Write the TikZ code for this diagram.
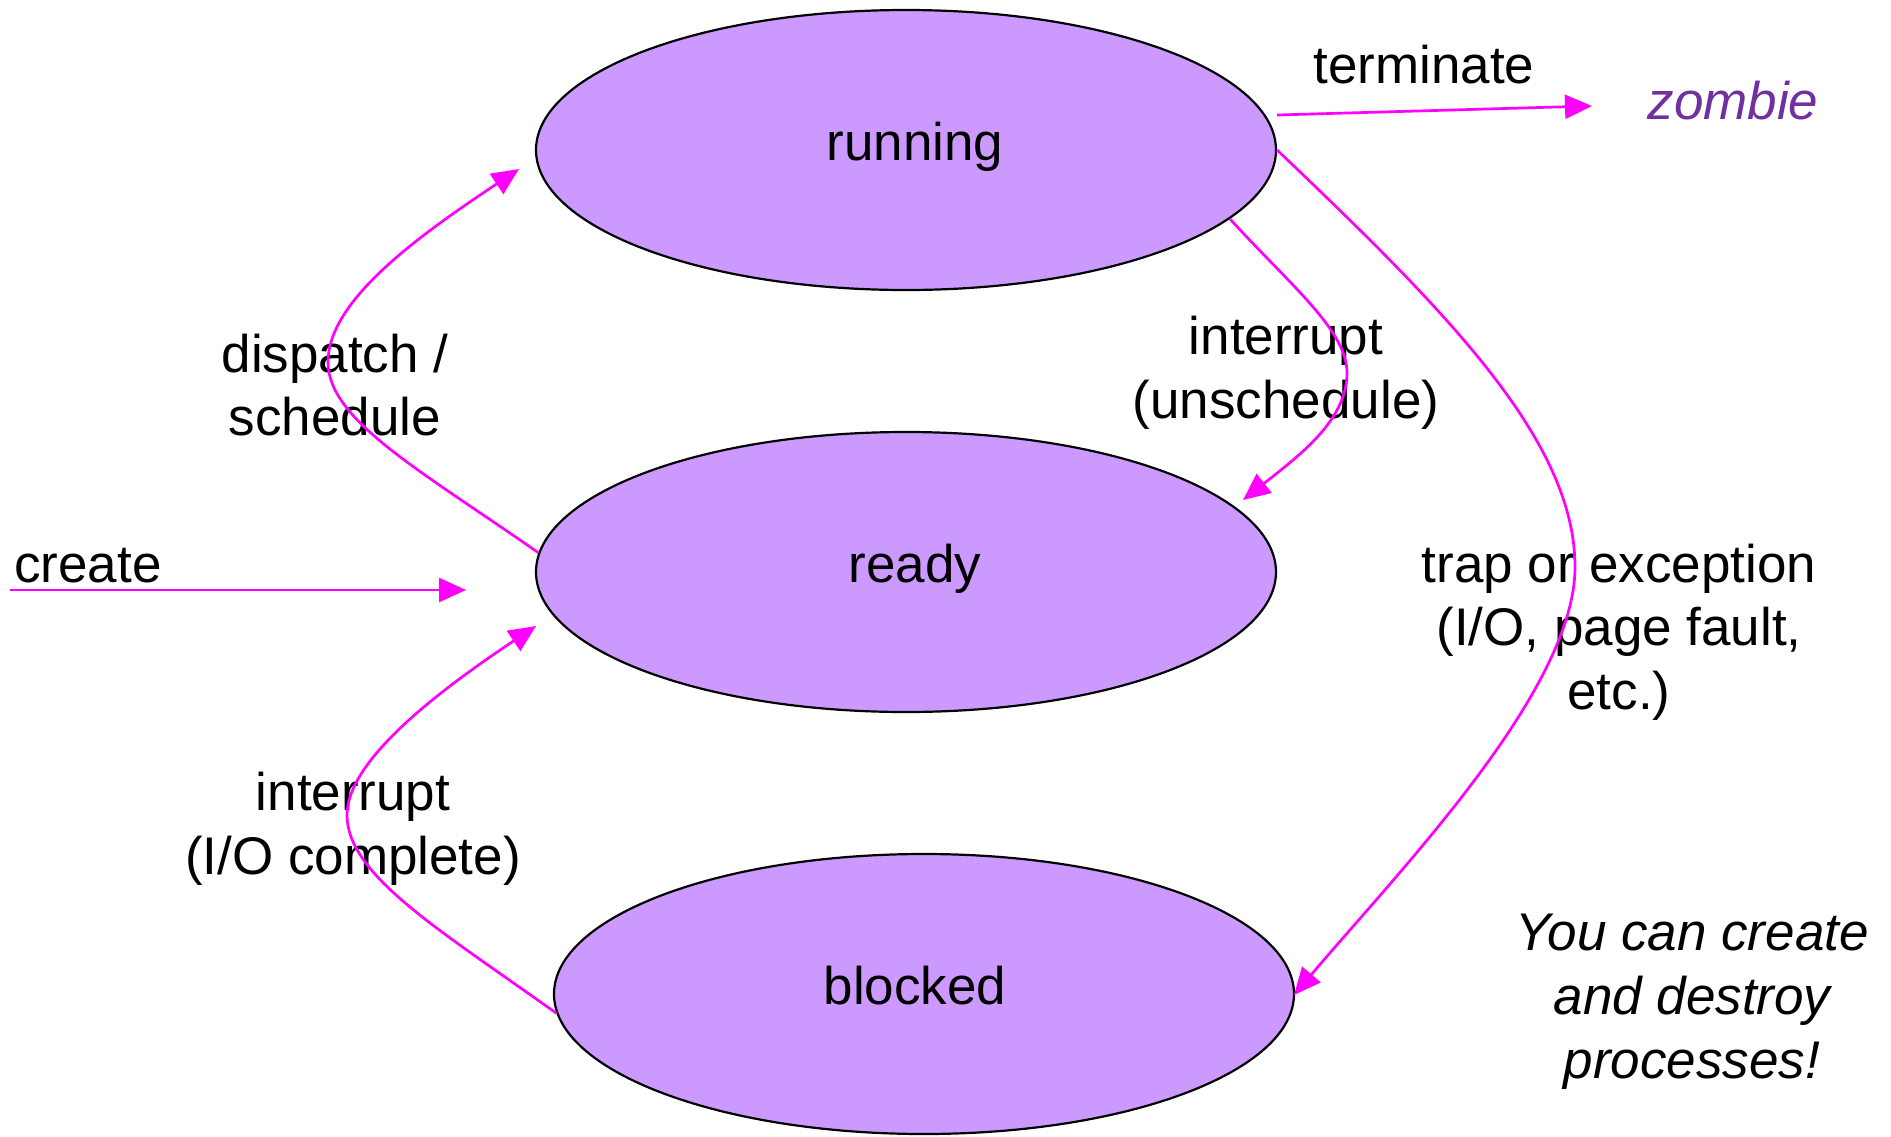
\documentclass[tikz,border=0pt]{standalone}
\usepackage{fontspec}
\setmainfont{Liberation Sans}
\usetikzlibrary{shapes.geometric,arrows.meta}
\definecolor{stfill}{HTML}{CC99FF}
\definecolor{arr}{HTML}{FF00FF}
\definecolor{zomb}{HTML}{7030A0}
\tikzset{
  state/.style={ellipse,draw=black,line width=2.2pt,fill=stfill,minimum width=740pt,minimum height=280pt,inner sep=0pt},
  lbl/.style={inner sep=0pt,align=center,font=\fontsize{53}{63.5}\selectfont},
  trans/.style={draw=arr,line width=2.7pt,-{Triangle[length=27pt,width=24pt]},color=arr},
}
\begin{document}
\begin{tikzpicture}[x=1pt,y=-1pt]
\useasboundingbox (0,0) rectangle (1891,1136);
\node[state] (running) at (906,150) {};
\node[state] (ready) at (906,572) {};
\node[state] (blocked) at (924,994) {};
\node[lbl] (trun) at (915,147) {running};
\node[lbl] (tready) at (915,569) {ready};
\node[lbl] (tblk) at (915,986) {blocked};
\node[lbl] (tterm) at (1424,65) {terminate};
\node[lbl,text=zomb,font=\fontsize{53}{62}\selectfont\itshape] (zombie) at (1733,101) {zombie};
\node[lbl,anchor=west] (tcreate) at (14,566) {create};
\node[lbl] (tdisp) at (335,385) {dispatch /\\schedule};
\node[lbl] (tunsch) at (1286,373) {interrupt\\(unschedule)};
\node[lbl] (ttrap) at (1619,632) {trap or exception\\(I/O, page fault,\\etc.)};
\node[lbl] (tio) at (353,829) {interrupt\\(I/O complete)};
\node[lbl,font=\fontsize{53}{64}\selectfont\itshape] (note) at (1692,1002) {You can create\\and destroy\\processes!};
\coordinate (zombtip) at (1592,106);
\coordinate (createstart) at (10,590);
\coordinate (createtip) at (466,590);
\coordinate (disptip) at (519,169);
\coordinate (unschtip) at (1243,500);
\coordinate (iotip) at (536,626);
\coordinate (traptip) at (1294,995);
\draw[trans] ([yshift=35pt]running.east) -- (zombtip);
\draw[trans] (createstart) -- (createtip);
\draw[trans] (ready.177.5) .. controls (420,470) and (328,420) .. (328,362) .. controls (328,300) and (420,235) .. (disptip);
\draw[trans] (blocked.183) .. controls (440,930) and (347,875) .. (347,815) .. controls (347,760) and (440,690) .. (iotip);
\draw[trans] (running.-12.5) .. controls (1290,285) and (1347,330) .. (1347,373) .. controls (1347,420) and (1300,455) .. (unschtip);
\draw[trans] (running.east) .. controls (1446,311) and (1575,440) .. (1575,567) .. controls (1575,690) and (1400,870) .. (traptip);
\end{tikzpicture}
\end{document}
